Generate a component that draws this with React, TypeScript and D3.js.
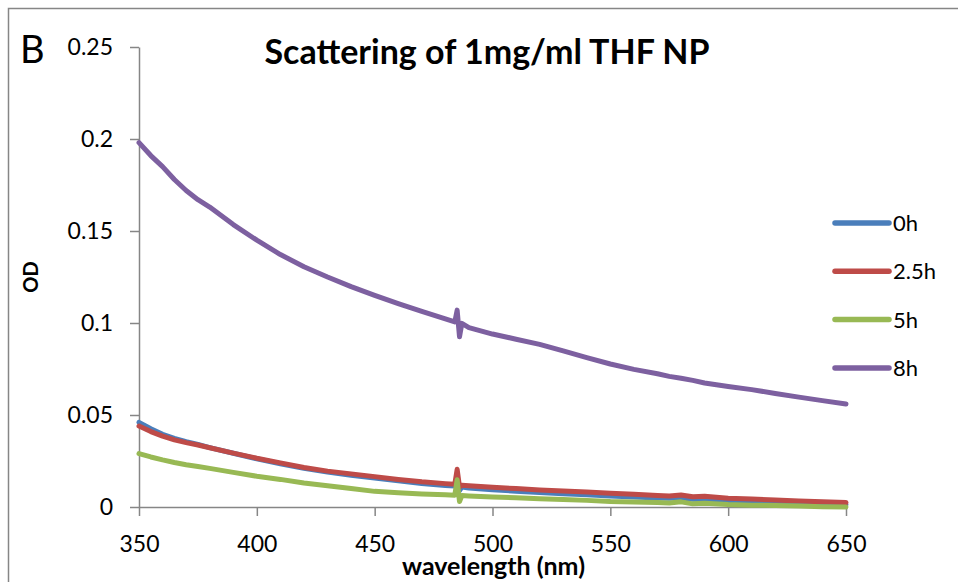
import React, { useEffect, useRef } from 'react';
import * as d3 from 'd3';

// wavelength (nm) sampling points
const WAVELENGTHS = [
  350, 355, 360, 365, 370, 375, 380, 390, 400, 410, 420, 430, 440, 450, 460, 470, 480,
  484, 485, 486, 487, 490, 500, 510, 520, 530, 540, 550, 560, 570, 575, 580, 585, 590,
  600, 610, 620, 630, 640, 650
];

const OD_0H = [
  0.0460, 0.0425, 0.0395, 0.0373, 0.0355, 0.0340, 0.0323, 0.0292, 0.0262, 0.0235, 0.0210,
  0.0190, 0.0173, 0.0157, 0.0142, 0.0128, 0.0117, 0.0114, 0.0160, 0.0090, 0.0108, 0.0103,
  0.0094, 0.0086, 0.0079, 0.0072, 0.0066, 0.0060, 0.0054, 0.0049, 0.0047, 0.0050, 0.0042,
  0.0041, 0.0035, 0.0030, 0.0025, 0.0020, 0.0016, 0.0012
];

const OD_2_5H = [
  0.0440, 0.0410, 0.0385, 0.0365, 0.0350, 0.0337, 0.0322, 0.0293, 0.0265, 0.0240, 0.0215,
  0.0195, 0.0180, 0.0165, 0.0150, 0.0137, 0.0127, 0.0124, 0.0205, 0.0110, 0.0118, 0.0115,
  0.0107, 0.0100, 0.0093, 0.0087, 0.0081, 0.0075, 0.0069, 0.0063, 0.0060, 0.0065, 0.0056,
  0.0058, 0.0047, 0.0043, 0.0038, 0.0033, 0.0029, 0.0024
];

const OD_5H = [
  0.0290, 0.0272, 0.0256, 0.0242, 0.0230, 0.0220, 0.0210, 0.0188, 0.0167, 0.0150, 0.0130,
  0.0115, 0.0100, 0.0085, 0.0078, 0.0071, 0.0066, 0.0064, 0.0148, 0.0030, 0.0062, 0.0060,
  0.0055, 0.0050, 0.0045, 0.0041, 0.0036, 0.0030, 0.0027, 0.0024, 0.0022, 0.0028, 0.0017,
  0.0020, 0.0013, 0.0010, 0.0008, 0.0005, 0.0002, 0.0000
];

const OD_8H = [
  0.1980, 0.1910, 0.1850, 0.1780, 0.1720, 0.1670, 0.1630, 0.1535, 0.1450, 0.1372, 0.1306,
  0.1250, 0.1198, 0.1150, 0.1105, 0.1063, 0.1022, 0.1006, 0.1070, 0.0925, 0.0998, 0.0975,
  0.0940, 0.0912, 0.0884, 0.0848, 0.0812, 0.0777, 0.0748, 0.0724, 0.0710, 0.0700, 0.0688,
  0.0674, 0.0655, 0.0638, 0.0617, 0.0597, 0.0578, 0.0560
];

const SERIES_NAMES = ['0h', '2.5h', '5h', '8h'];
const SERIES_VALUES = [OD_0H, OD_2_5H, OD_5H, OD_8H];
const SERIES_COLORS = ['#4A7EBB', '#BE4B48', '#98B954', '#7D60A0'];

const X_TICKS = [350, 400, 450, 500, 550, 600, 650];
const Y_TICKS = [0, 0.05, 0.1, 0.15, 0.2, 0.25];

const FONT = 'Lato, "Open Sans", sans-serif';
const AXIS_COLOR = '#868686';

export default function App() {
  const svgRef = useRef<SVGSVGElement>(null);

  useEffect(() => {
    const svg = d3.select(svgRef.current);
    svg.selectAll('*').remove();

    const left = 139, right = 846, top = 47, bottom = 507;

    const x = d3.scaleLinear().domain([350, 650]).range([left, right]);
    const y = d3.scaleLinear().domain([0, 0.25]).range([bottom, top]);

    // outer frame
    svg.append('rect')
      .attr('x', 8.5).attr('y', 8.5)
      .attr('width', 980).attr('height', 620)
      .attr('fill', 'none')
      .attr('stroke', AXIS_COLOR)
      .attr('stroke-width', 1.5);

    // y axis
    const yAxis = svg.append('g')
      .attr('transform', `translate(${left},0)`)
      .call(d3.axisLeft(y).tickValues(Y_TICKS).tickSizeInner(9).tickSizeOuter(0).tickPadding(17)
        .tickFormat(d => String(d)));
    yAxis.select('.domain').attr('stroke', AXIS_COLOR).attr('stroke-width', 1.5);
    yAxis.selectAll('line').attr('stroke', AXIS_COLOR).attr('stroke-width', 1.5);
    yAxis.selectAll('text')
      .style('font-family', FONT).style('font-size', '23px').attr('fill', '#000');

    // x axis
    const xAxis = svg.append('g')
      .attr('transform', `translate(0,${bottom})`)
      .call(d3.axisBottom(x).tickValues(X_TICKS).tickSizeInner(9).tickSizeOuter(0).tickPadding(20)
        .tickFormat(d => String(d)));
    xAxis.select('.domain').attr('stroke', AXIS_COLOR).attr('stroke-width', 1.5);
    xAxis.selectAll('line').attr('stroke', AXIS_COLOR).attr('stroke-width', 1.5);
    xAxis.selectAll('text')
      .style('font-family', FONT).style('font-size', '23px').attr('fill', '#000');

    // lines
    const line = d3.line<number>()
      .x((d, i) => x(WAVELENGTHS[i]))
      .y(d => y(d));

    SERIES_VALUES.forEach((vals, i) => {
      svg.append('path')
        .attr('d', line(vals))
        .attr('fill', 'none')
        .attr('stroke', SERIES_COLORS[i])
        .attr('stroke-width', 5)
        .attr('stroke-linejoin', 'round')
        .attr('stroke-linecap', 'round');
    });

    // legend
    const legend = svg.append('g').attr('transform', 'translate(835,223)');
    SERIES_NAMES.forEach((name, i) => {
      const g = legend.append('g').attr('transform', `translate(0,${i * 48.3})`);
      g.append('line')
        .attr('x1', 0).attr('x2', 54)
        .attr('stroke', SERIES_COLORS[i])
        .attr('stroke-width', 5.5)
        .attr('stroke-linecap', 'round');
      g.append('text')
        .attr('x', 58).attr('y', 0).attr('dy', '0.36em')
        .style('font-family', FONT).style('font-size', '22px')
        .text(name);
    });

    // titles
    svg.append('text')
      .attr('x', 487).attr('y', 64)
      .attr('text-anchor', 'middle')
      .style('font-family', FONT).style('font-size', '34px').style('font-weight', 'bold')
      .text('Scattering of 1mg/ml THF NP');

    svg.append('text')
      .attr('x', 20).attr('y', 63)
      .style('font-family', FONT).style('font-size', '38px')
      .text('B');

    svg.append('text')
      .attr('x', (left + right) / 2 + 1).attr('y', 575)
      .attr('text-anchor', 'middle')
      .style('font-family', FONT).style('font-size', '25px').style('font-weight', 'bold')
      .text('wavelength (nm)');

    svg.append('text')
      .attr('transform', `translate(38,${(top + bottom) / 2}) rotate(-90)`)
      .attr('text-anchor', 'middle')
      .style('font-family', FONT).style('font-size', '20px').style('font-weight', 'bold')
      .text('OD');
  }, []);

  return (
    <svg
      ref={svgRef}
      width={958}
      height={582}
      style={{ position: 'absolute', left: 0, top: 0, background: '#fff' }}
    />
  );
}
